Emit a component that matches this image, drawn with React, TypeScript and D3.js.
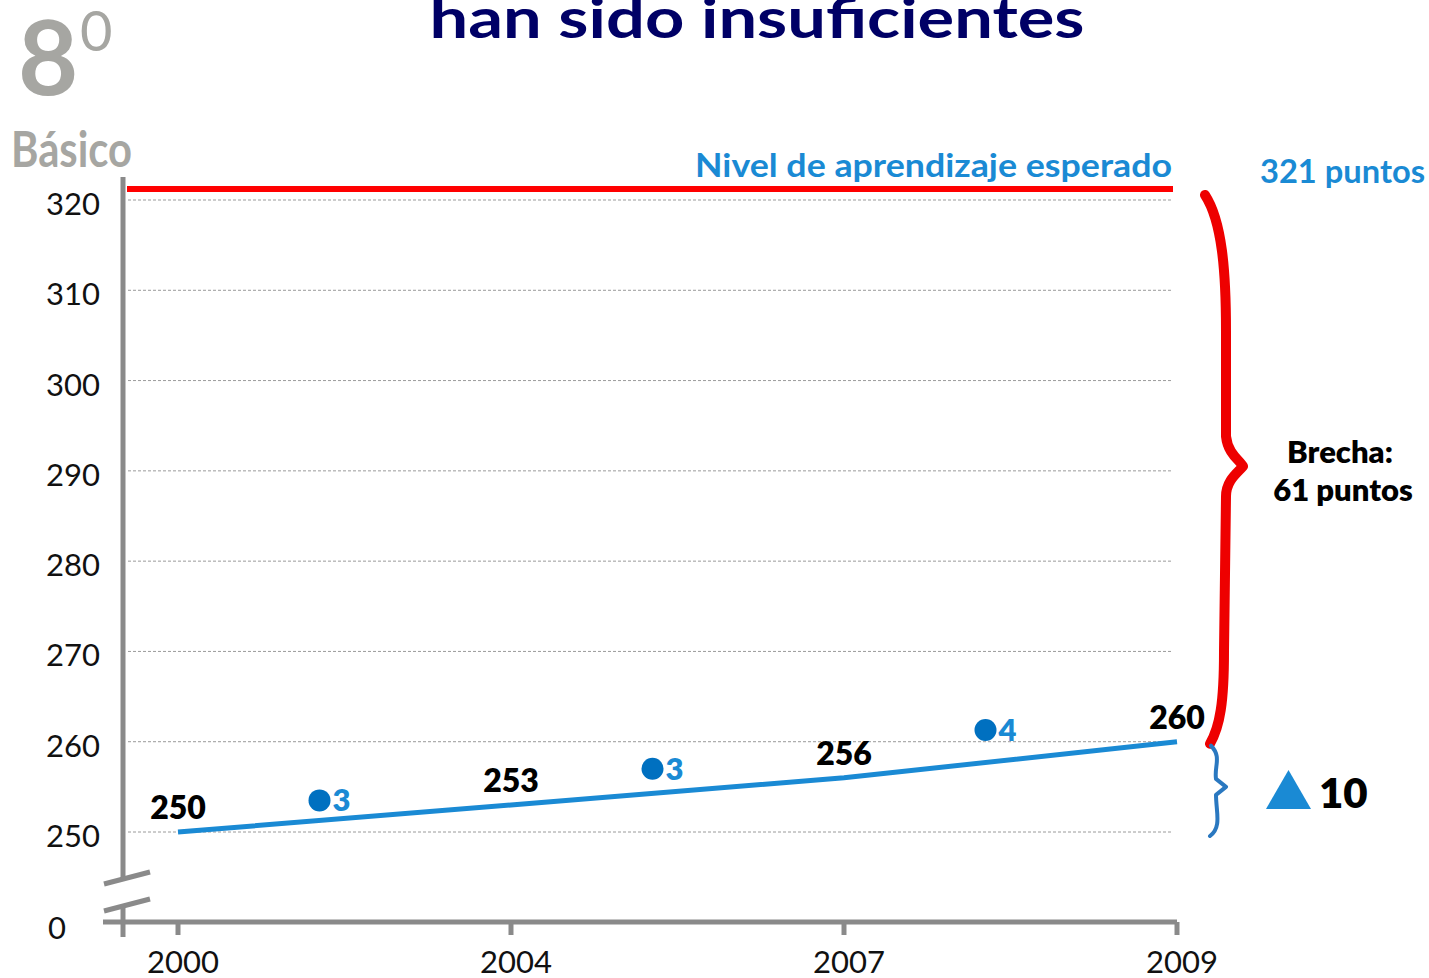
import React from "react";
import * as d3 from "d3";

const width = 1429;
const height = 978;

const years = ["2000", "2004", "2007", "2009"];
const scores = [250, 253, 256, 260];
const yTicks = [250, 260, 270, 280, 290, 300, 310, 320];
// variation markers between measurements
const deltaLabels = ["3", "3", "4"];
const deltaPos = [253.5, 257, 261.3];
const expected = 321;
const gain = "10";

const blue = "#1a8ad4";
const gray = "#8a8a8a";
const font = "Lato, 'Open Sans', sans-serif";

const x = d3.scalePoint<string>().domain(years).range([178, 1177]);
const y = d3.scaleLinear().domain([250, 320]).range([832, 200]);

const line = d3
  .line<number>()
  .x((_, i) => x(years[i])!)
  .y((d) => y(d));

const App = () => {
  const step = x.step();
  const top = y(expected);
  const mid = (y(expected) + y(scores[3])) / 2;
  const bot = y(scores[3]);
  const lowMid = (y(scores[3]) + y(scores[0])) / 2;

  const redBrace = `M1205,${top + 4} C1222,${top + 30} 1226,${top + 80} 1226,${top + 140}
    L1226,${mid - 30} C1228,${mid - 12} 1240,${mid - 6} 1243,${mid} C1238,${mid + 6} 1226,${mid + 14} 1226,${mid + 30}
    L1224,${bot - 90} C1224,${bot - 40} 1220,${bot - 15} 1210,${bot + 2}`;
  const blueBrace = `M1211,${bot + 4} C1222,${bot + 15} 1214,${lowMid - 20} 1216,${lowMid - 8}
    L1226,${lowMid} L1216,${lowMid + 8} C1216,${lowMid + 25} 1222,${y(250) - 5} 1210,${y(250) + 4}`;

  return (
    <svg width={width} height={height} style={{ display: "block", position: "absolute", left: 0, top: 0 }}>
      <rect width={width} height={height} fill="#fff" />

      {/* title (cut at top, as in the slide) */}
      <text x={757} y={38} textAnchor="middle" fontFamily={font} fontWeight={700} fontSize={56}
        fill="#000066" textLength={655} lengthAdjust="spacingAndGlyphs">
        han sido insuficientes
      </text>

      {/* grade label */}
      <text x={18} y={95} fontFamily={font} fontWeight={700} fontSize={104} fill="#a6a6a2">8</text>
      <text x={80} y={51} fontFamily={font} fontSize={56} fill="#a6a6a2">0</text>
      <text x={11} y={167} fontFamily={font} fontWeight={700} fontSize={50} fill="#a6a6a2"
        textLength={121} lengthAdjust="spacingAndGlyphs">Básico</text>

      {/* grid */}
      {yTicks.map((t) => (
        <g key={t}>
          <line x1={128} x2={1173} y1={y(t)} y2={y(t)} stroke="#9a9a9a" strokeWidth={1} strokeDasharray="3,2" />
          <text x={100} y={y(t) + 3} textAnchor="end" dominantBaseline="central" fontFamily={font}
            fontSize={31} fill="#111">{t}</text>
        </g>
      ))}
      <text x={57} y={927} textAnchor="middle" dominantBaseline="central" fontFamily={font} fontSize={31} fill="#111">0</text>

      {/* axes */}
      <line x1={123} x2={123} y1={177} y2={878} stroke={gray} strokeWidth={5} />
      <line x1={123} x2={123} y1={906} y2={937} stroke={gray} strokeWidth={5} />
      <line x1={104} x2={150} y1={884} y2={872} stroke={gray} strokeWidth={5} />
      <line x1={104} x2={150} y1={911} y2={899} stroke={gray} strokeWidth={5} />
      <line x1={103} x2={1177} y1={922} y2={922} stroke={gray} strokeWidth={5} />
      {years.map((yr) => (
        <g key={yr}>
          <line x1={x(yr)!} x2={x(yr)!} y1={922} y2={935} stroke={gray} strokeWidth={5} />
          <text x={x(yr)! + 5} y={973} textAnchor="middle" fontFamily={font} fontSize={31} fill="#111">{yr}</text>
        </g>
      ))}

      {/* expected level */}
      <line x1={127} x2={1173} y1={top - 2} y2={top - 2} stroke="#ff0000" strokeWidth={6} />
      <text x={1172} y={177} textAnchor="end" fontFamily={font} fontWeight={700} fontSize={32} fill={blue}
        textLength={477} lengthAdjust="spacingAndGlyphs">Nivel de aprendizaje esperado</text>
      <text x={1260} y={183} fontFamily={font} fontWeight={700} fontSize={32} fill={blue}
        textLength={165} lengthAdjust="spacingAndGlyphs">{`${expected} puntos`}</text>

      {/* series */}
      <path d={line(scores)!} fill="none" stroke={blue} strokeWidth={5} />
      {scores.map((s, i) => (
        <text key={i} x={x(years[i])!} y={y(s) - 13} textAnchor="middle" fontFamily={font} fontWeight={800}
          fontSize={32} fill="#000">{s}</text>
      ))}
      {deltaLabels.map((lab, i) => {
        const cx = x(years[i])! + step / 2 - 25;
        return (
          <g key={i}>
            <circle cx={cx} cy={y(deltaPos[i])} r={11} fill="#0070c0" />
            <text x={cx + 13} y={y(deltaPos[i]) + 11} fontFamily={font} fontWeight={800} fontSize={31} fill={blue}>{lab}</text>
          </g>
        );
      })}

      {/* gap brace */}
      <path d={redBrace} fill="none" stroke="#ee0000" strokeWidth={10} strokeLinecap="round" strokeLinejoin="round" />
      <text x={1340} y={463} textAnchor="middle" fontFamily={font} fontWeight={800} fontSize={31} fill="#000">Brecha:</text>
      <text x={1343} y={501} textAnchor="middle" fontFamily={font} fontWeight={800} fontSize={31} fill="#000">
        {`${expected - scores[3]} puntos`}
      </text>

      {/* gain brace */}
      <path d={blueBrace} fill="none" stroke="#2a78c0" strokeWidth={4} strokeLinecap="round" strokeLinejoin="round" />
      <path d={`M1266,809 L1311,809 L1288.5,770 Z`} fill={blue} />
      <text x={1319} y={808} fontFamily={font} fontWeight={800} fontSize={42} fill="#000">{gain}</text>
    </svg>
  );
};

export default App;
